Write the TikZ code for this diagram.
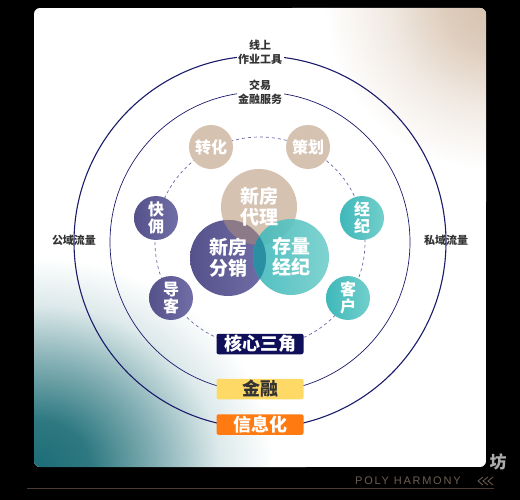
\documentclass[tikz,border=0pt]{standalone}
\usepackage{fontspec}
\usetikzlibrary{calc}
\newfontfamily\cjk{Noto Sans CJK SC}
\newfontfamily\polyfont[LetterSpace=16]{Liberation Sans}
\definecolor{navyc}{HTML}{1B1B6B}
\definecolor{dashc}{HTML}{6E68AA}
\definecolor{tanc}{HTML}{D5C2B1}
\definecolor{purpl}{HTML}{55518B}
\definecolor{purpr}{HTML}{716DA6}
\definecolor{teall}{HTML}{3FB8BA}
\definecolor{tealr}{HTML}{72CFCB}
\definecolor{mauvec}{HTML}{8C7A88}
\definecolor{darkteal}{HTML}{2A8FA3}
\definecolor{boxnavy}{HTML}{10105A}
\definecolor{boxyel}{HTML}{FFD966}
\definecolor{boxora}{HTML}{FF7A10}
\definecolor{labc}{HTML}{333333}
\definecolor{cornerteal}{HTML}{1C6D76}
\definecolor{cornerbeige}{HTML}{D6C1AD}
\definecolor{brownline}{HTML}{4A3A30}
\definecolor{polyc}{HTML}{6E5E52}
\pgfdeclareradialshading{tealglow}{\pgfpointorigin}{color(0bp)=(cornerteal); color(5bp)=(cornerteal!92!white); color(11bp)=(cornerteal!55!white); color(17bp)=(cornerteal!15!white); color(22bp)=(white); color(50bp)=(white)}
\pgfdeclareradialshading{beigeglow}{\pgfpointorigin}{color(0bp)=(cornerbeige); color(6bp)=(cornerbeige!80!white); color(13bp)=(cornerbeige!35!white); color(21bp)=(white); color(50bp)=(white)}
\tikzset{
  smallc/.style={circle, minimum size=44pt, inner sep=0pt},
  bigc/.style={circle, minimum size=76pt, inner sep=0pt},
  smalltxt/.style={text=white, align=center, inner sep=0pt, font=\cjk\bfseries\fontsize{16}{17}\selectfont},
  bigtxt/.style={text=white, align=center, inner sep=0pt, font=\cjk\bfseries\fontsize{19}{21}\selectfont},
  toplab/.style={text=labc, align=center, inner sep=1.5pt, fill=white, font=\cjk\bfseries\fontsize{11}{14}\selectfont},
  sidelab/.style={text=labc, inner sep=0pt, font=\cjk\bfseries\fontsize{11}{14}\selectfont},
  tagbox/.style={rounded corners=2pt, minimum width=87pt, minimum height=20.5pt, inner sep=0pt, font=\cjk\bfseries\fontsize{18}{20}\selectfont},
  ring/.style={draw=navyc},
}
\begin{document}
\begin{tikzpicture}[x=1pt,y=-1pt]
\fill[black] (0,0) rectangle (520,500);
\useasboundingbox (0,0) rectangle (520,500);
% watermark behind panel
\node[text=gray!65, font=\cjk\bfseries\fontsize{17}{17}\selectfont, inner sep=0pt] (wm) at (498,462) {坊};
\node[text=polyc, font=\polyfont\fontsize{11}{11}\selectfont, inner sep=0pt, anchor=west] (poly) at (355,481) {POLY HARMONY};
\coordinate (chev) at (478,481);
\foreach \dx in {0,5,10} {
  \draw[polyc, line width=0.8pt] ($(chev)+(\dx+5,-4)$) -- ($(chev)+(\dx,0)$) -- ($(chev)+(\dx+5,4)$);
}
\draw[brownline, line width=1pt] (27,488) -- (494,488);
% panel
\begin{scope}
  \clip[rounded corners=6pt] (34,8) rectangle (486,467);
  \fill[white] (34,8) rectangle (486,467);
  \shade[shading=beigeglow] (492,2) circle (200pt);
  \shade[shading=tealglow] (36,468) ellipse (270pt and 240pt);
\end{scope}
% rings
\draw[ring, line width=1.1pt] (260,242) circle (186pt);
\draw[ring, line width=0.7pt] (260,242) circle (150pt);
\draw[dashc, line width=0.7pt, dash pattern=on 3pt off 3pt] (260,242) circle (105pt);
% small circles
\node[smallc, fill=tanc] (zh) at (211,147) {};
\node[smallc, fill=tanc] (ch) at (308,147) {};
\node[smallc, left color=purpl, right color=purpr] (ky) at (156,218) {};
\node[smallc, left color=teall, right color=tealr] (jj) at (362,218) {};
\node[smallc, left color=purpl, right color=purpr] (dk) at (171,298) {};
\node[smallc, left color=teall, right color=tealr] (kh) at (348,298) {};
% big circles
\node[bigc, fill=tanc] (dl) at (259,207) {};
\node[bigc, left color=purpl, right color=purpr] (fx) at (228,258) {};
\begin{scope}
  \clip (259,207) circle (38pt);
  \fill[mauvec] (228,258) circle (38pt);
\end{scope}
\node[bigc, left color=teall, right color=tealr, fill opacity=0.9] (cl) at (291,257) {};
\begin{scope}
  \clip (228,258) circle (38pt);
  \fill[darkteal] (291,257) circle (38pt);
\end{scope}
% texts
\node[smalltxt] (tzh) at (zh) {转化};
\node[smalltxt] (tch) at (ch) {策划};
\node[smalltxt] (tky) at (ky) {快\\佣};
\node[smalltxt] (tjj) at (jj) {经\\纪};
\node[smalltxt] (tdk) at (dk) {导\\客};
\node[smalltxt] (tkh) at (kh) {客\\户};
\node[bigtxt] (tdl) at (dl) {新房\\代理};
\node[bigtxt] (tfx) at (fx) {新房\\分销};
\node[bigtxt] (tcl) at (cl) {存量\\经纪};
% ring labels
\node[toplab] (l1) at (260,52) {线上\\作业工具};
\node[toplab] (l2) at (260,92) {交易\\金融服务};
\node[sidelab] (l3) at (74,240) {公域流量};
\node[sidelab] (l4) at (446,240) {私域流量};
% tags
\node[tagbox, fill=boxnavy, text=white] (t1) at (260,344) {核心三角};
\node[tagbox, fill=boxyel, text=labc] (t2) at (260,389) {金融};
\node[tagbox, fill=boxora, text=white] (t3) at (260,424.5) {信息化};
\end{tikzpicture}
\end{document}
